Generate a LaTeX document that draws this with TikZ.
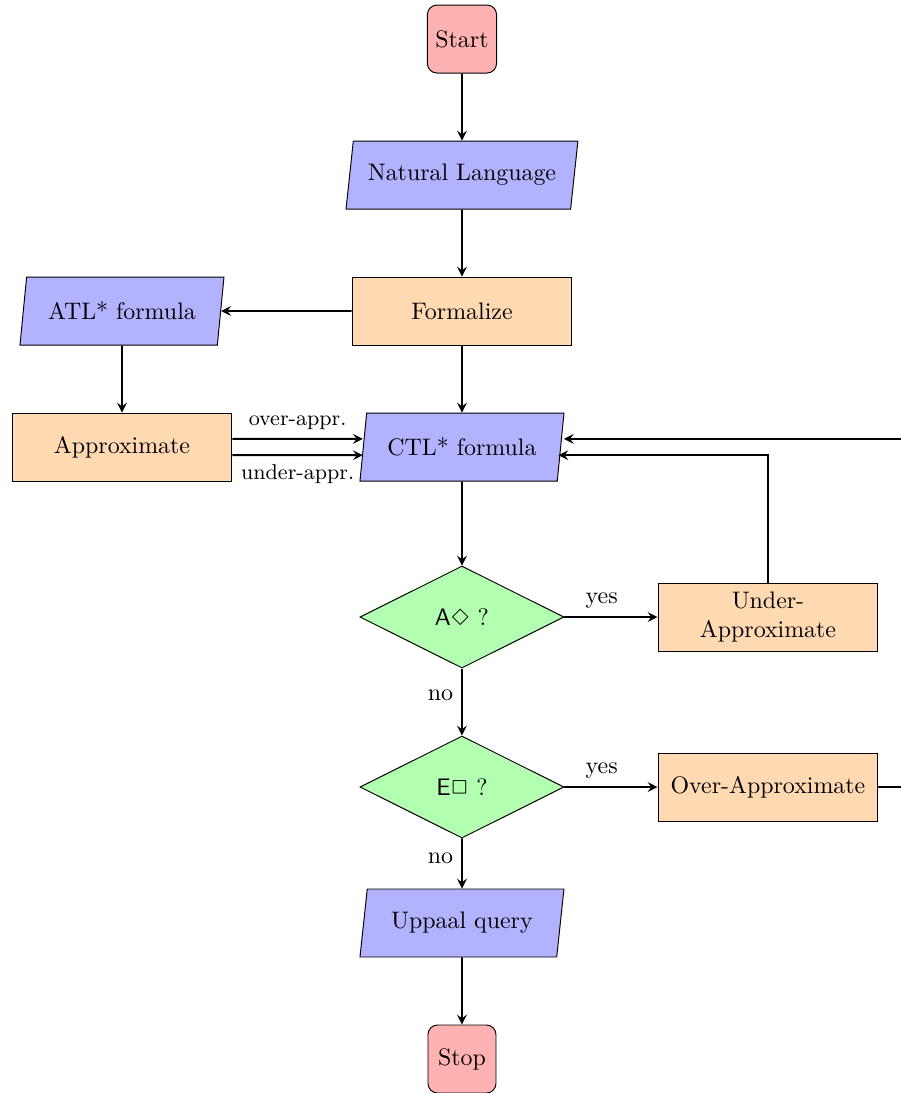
\documentclass[tikz,border=0pt]{standalone}
\usepackage{latexsym}
\usetikzlibrary{shapes.geometric,arrows}
\begin{document}
\begin{tikzpicture}[
  startstop/.style={rectangle, rounded corners, minimum width=1cm, minimum height=1cm, draw=black, fill=red!30},
  io/.style={trapezium, trapezium left angle=79, trapezium right angle=101, trapezium stretches body, minimum width=3cm, minimum height=1cm, draw=black, fill=blue!30},
  process/.style={rectangle, minimum height=1cm, text width=3cm, align=center, draw=black, fill=orange!30},
  decision/.style={diamond, aspect=2, minimum width=3cm, minimum height=1.5cm, inner sep=0pt, draw=black, fill=green!30},
  arrow/.style={thick, ->, >=stealth},
  lbl/.style={font=\small}
]
\useasboundingbox (-6.794,0.574) rectangle (6.456,-15.5);

\node[startstop] (start) at (0,0) {Start};
\node[io, minimum width=3.41cm] (nl) at (0,-2) {Natural Language};
\node[process] (formalize) at (0,-4) {Formalize};
\node[io] (atl) at (-5,-4) {ATL* formula};
\node[process] (approx) at (-5,-6) {Approximate};
\node[io] (ctl) at (0,-6) {CTL* formula};
\node[decision] (adia) at (0,-8.5) {$\mathsf{A}\Diamond$ ?};
\node[process] (under) at (4.5,-8.5) {Under-\\Approximate};
\node[decision] (ebox) at (0,-11) {$\mathsf{E}\Box$ ?};
\node[process] (over) at (4.5,-11) {Over-Approximate};
\node[io] (uppaal) at (0,-13) {Uppaal query};
\node[startstop] (stop) at (0,-15) {Stop};
\coordinate (loop) at (7.2,-11);

\draw[arrow] (start) -- (nl);
\draw[arrow] (nl) -- (formalize);
\draw[arrow] (formalize) -- (atl);
\draw[arrow] (formalize) -- (ctl);
\draw[arrow] (atl) -- (approx);
\draw[arrow] ([yshift=0.12cm]approx.east) -- node[lbl, above] {over-appr.} ([yshift=0.12cm]ctl.west);
\draw[arrow] ([yshift=-0.12cm]approx.east) -- node[lbl, below] {under-appr.} ([yshift=-0.12cm]ctl.west);
\draw[arrow] (ctl) -- (adia);
\draw[arrow] (adia) -- node[pos=0.4, above] {yes} (under);
\draw[arrow] (under.north) |- ([yshift=-0.12cm,xshift=-0.04cm]ctl.east);
\draw[arrow] (adia) -- node[pos=0.4, left] {no} (ebox);
\draw[arrow] (ebox) -- node[pos=0.4, above] {yes} (over);
\draw[arrow] (over.east) -- (loop) |- ([yshift=0.12cm,xshift=0.04cm]ctl.east);
\draw[arrow] (ebox) -- node[pos=0.4, left] {no} (uppaal);
\draw[arrow] (uppaal) -- (stop);
\end{tikzpicture}
\end{document}
